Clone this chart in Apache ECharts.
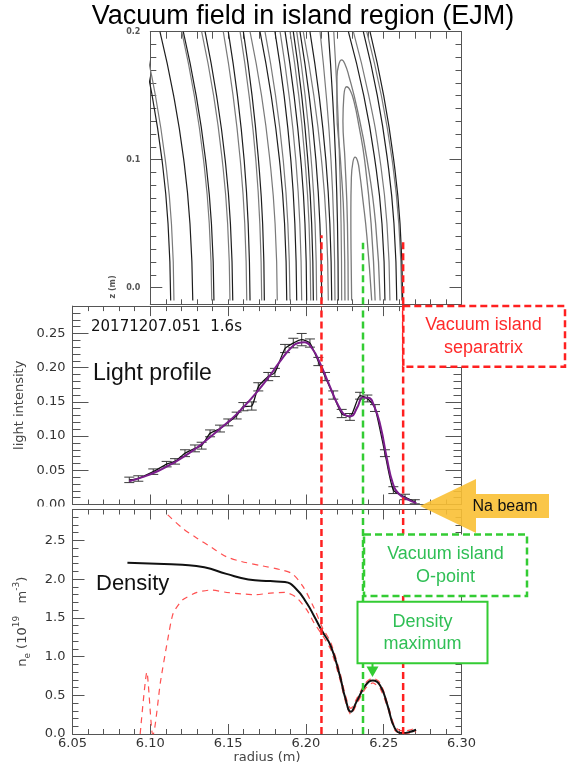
<!DOCTYPE html>
<html><head><meta charset="utf-8">
<script src="https://cdn.jsdelivr.net/npm/echarts@6/dist/echarts.min.js"></script>
<style>html,body{margin:0;padding:0;background:#fff;}#c{width:571px;height:765px;}</style>
</head><body><div id="c"></div>
<script>
// ---------- data ----------
// Top panel: vacuum field lines, radius at each z level
const fieldLevelsZ = [-0.01, 0.05, 0.10, 0.15, 0.20];
const fieldLinesR = [
 [6.1131, 6.1114, 6.1075, 6.1012, 6.0925],
 [6.1152, 6.1136, 6.1096, 6.1033, 6.0947],
 [6.1273, 6.1255, 6.1215, 6.1150, 6.1062],
 [6.1395, 6.1379, 6.1342, 6.1283, 6.1202],
 [6.1409, 6.1393, 6.1355, 6.1295, 6.1212],
 [6.1512, 6.1497, 6.1462, 6.1407, 6.1330],
 [6.1530, 6.1515, 6.1481, 6.1426, 6.1352],
 [6.1620, 6.1607, 6.1578, 6.1532, 6.1469],
 [6.1641, 6.1629, 6.1603, 6.1560, 6.1501],
 [6.1716, 6.1704, 6.1678, 6.1635, 6.1577],
 [6.1733, 6.1722, 6.1695, 6.1654, 6.1598],
 [6.1816, 6.1802, 6.1768, 6.1715, 6.1641],
 [6.1877, 6.1863, 6.1830, 6.1777, 6.1705],
 [6.1898, 6.1884, 6.1854, 6.1805, 6.1737],
 [6.1941, 6.1929, 6.1903, 6.1860, 6.1801],
 [6.1973, 6.1961, 6.1935, 6.1892, 6.1834],
 [6.2005, 6.1994, 6.1967, 6.1924, 6.1866],
 [6.2031, 6.2020, 6.1994, 6.1954, 6.1898],
 [6.2048, 6.2037, 6.2012, 6.1973, 6.1919],
 [6.2069, 6.2059, 6.2034, 6.1995, 6.1941],
 [6.2102, 6.2090, 6.2064, 6.2021, 6.1962],
 [6.2144, 6.2131, 6.2100, 6.2051, 6.1983],
 [6.2166, 6.2154, 6.2128, 6.2085, 6.2026],
 [6.2187, 6.2179, 6.2161, 6.2131, 6.2091],
 [6.2208, 6.2203, 6.2191, 6.2171, 6.2144],
 [6.2230, 6.2226, 6.2216, 6.2201, 6.2179],
 [6.2508, 6.2489, 6.2443, 6.2372, 6.2273],
 [6.2540, 6.2521, 6.2476, 6.2404, 6.2305],
 [6.2584, 6.2566, 6.2524, 6.2459, 6.2369],
 [6.2616, 6.2597, 6.2554, 6.2485, 6.2391],
 [6.2622, 6.2605, 6.2564, 6.2500, 6.2412]
];
// closed island flux surfaces ([radius, z])
const islandInner = [[6.2294,-0.01],[6.2290,0.03],[6.2289,0.06],[6.2292,0.085],[6.2302,0.098],[6.2316,0.102],[6.2332,0.099],[6.2345,0.09],[6.2365,0.07],[6.2392,0.04],[6.2423,-0.01]];
const islandMiddle = [[6.2272,-0.01],[6.2267,0.05],[6.2251,0.1],[6.2238,0.13],[6.2244,0.15],[6.2262,0.157],[6.2285,0.154],[6.2310,0.145],[6.2340,0.127],[6.2377,0.1],[6.2419,0.05],[6.2445,-0.01]];
const islandOuter = [[6.2251,-0.01],[6.2245,0.05],[6.2222,0.1],[6.2199,0.14],[6.2200,0.165],[6.2213,0.175],[6.2230,0.178],[6.2250,0.175],[6.2277,0.165],[6.2329,0.14],[6.2393,0.1],[6.2448,0.05],[6.2477,-0.01]];

// marker radii
const separatrixR = [6.2100, 6.2625];
const separatrixTopZ = [0.041, 0.037];
const oPointR = 6.2367;
const oPointTopZ = 0.035;

// Light profile
const lightR = [6.0865,6.0923,6.1019,6.1105,6.1159,6.1223,6.1287,6.1330,6.1384,6.1448,6.1501,6.1555,6.1598,6.1652,6.1694,6.1758,6.1801,6.1866,6.1919,6.1973,6.2026,6.2080,6.2123,6.2176,6.2230,6.2283,6.2348,6.2395,6.2444,6.2508,6.2562,6.2637,6.2700];
const lightV = [0.036,0.038,0.048,0.059,0.063,0.075,0.082,0.086,0.104,0.111,0.120,0.130,0.143,0.144,0.172,0.187,0.193,0.228,0.236,0.241,0.236,0.209,0.187,0.160,0.133,0.128,0.159,0.155,0.141,0.075,0.021,0.011,0.004];
const lightErr = [0.004,0.004,0.004,0.004,0.004,0.005,0.005,0.005,0.005,0.005,0.005,0.005,0.006,0.006,0.006,0.006,0.006,0.006,0.007,0.009,0.006,0.006,0.006,0.006,0.006,0.005,0.005,0.005,0.005,0.005,0.005,0.004,0.003];
const fitR = [6.0865,6.095,6.105,6.115,6.125,6.135,6.145,6.155,6.165,6.175,6.183,6.190,6.195,6.199,6.204,6.209,6.215,6.221,6.226,6.229,6.233,6.2365,6.240,6.244,6.248,6.252,6.256,6.260,6.265,6.271];
const fitV = [0.034,0.040,0.049,0.061,0.075,0.092,0.111,0.131,0.155,0.183,0.208,0.228,0.236,0.237,0.228,0.207,0.175,0.144,0.130,0.129,0.142,0.156,0.156,0.143,0.114,0.068,0.030,0.015,0.008,0.002];

// Density
const densR = [6.0853,6.1087,6.1206,6.1347,6.1489,6.1630,6.1771,6.1865,6.1936,6.2007,6.2054,6.2105,6.2160,6.2218,6.2254,6.2289,6.2325,6.2383,6.2430,6.2477,6.2524,6.2571,6.2619,6.2665,6.2708];
const densV = [2.212,2.195,2.186,2.153,2.068,1.996,1.975,1.962,1.877,1.686,1.517,1.326,1.136,0.754,0.458,0.288,0.415,0.627,0.690,0.627,0.373,0.076,0.013,0.025,0.055];
const upperR = [6.1112,6.1206,6.1300,6.1394,6.1489,6.1583,6.1724,6.1842,6.1912,6.1983,6.2054,6.2105,6.2160,6.2218,6.2254,6.2289,6.2325,6.2383,6.2430,6.2477,6.2524,6.2571,6.2619,6.2665,6.2708];
const upperV = [2.83,2.66,2.53,2.41,2.29,2.23,2.17,2.12,2.07,1.90,1.62,1.38,1.18,0.80,0.50,0.33,0.45,0.66,0.72,0.66,0.40,0.10,0.04,0.05,0.08];
const lowerR = [6.0935,6.0978,6.1014,6.1019,6.1065,6.1112,6.1147,6.1206,6.1300,6.1394,6.1489,6.1583,6.1677,6.1771,6.1865,6.1936,6.2007,6.2054,6.2105,6.2160,6.2218,6.2254,6.2289,6.2325,6.2383,6.2430,6.2477,6.2524,6.2571,6.2619,6.2665,6.2708];
const lowerV = [0.0,0.80,0.0,0.0,0.67,1.22,1.56,1.73,1.83,1.86,1.83,1.81,1.80,1.82,1.83,1.77,1.60,1.43,1.28,1.09,0.71,0.42,0.25,0.38,0.59,0.66,0.59,0.35,0.05,0.0,0.01,0.03];

// ---------- chart ----------
const AX = '#555';
const LBL = {fontFamily:'DejaVu Sans', fontSize:13, color:'#333'};
const zip = (a, b) => a.map((x, i) => [x, b[i]]);

function xAx(grid, pos, min, max, interval, major, minor, extra) {
  return Object.assign({
    type:'value', gridIndex:grid, position:pos, min, max, interval,
    axisLine:{show:true, onZero:false, lineStyle:{color:AX, width:1}},
    axisTick:{show:true, inside:true, length:major, lineStyle:{color:AX}},
    minorTick:{show:minor>0, splitNumber:5, length:minor, lineStyle:{color:AX}},
    axisLabel:{show:false}, splitLine:{show:false}
  }, extra || {});
}
function yAx(grid, pos, min, max, interval, major, minor, extra) {
  return Object.assign({
    type:'value', gridIndex:grid, position:pos, min, max, interval,
    axisLine:{show:true, onZero:false, lineStyle:{color:AX, width:1}},
    axisTick:{show:major>0, inside:true, length:major, lineStyle:{color:AX}},
    minorTick:{show:minor>0, splitNumber:5, length:minor, lineStyle:{color:AX}},
    axisLabel:{show:false}, splitLine:{show:false}
  }, extra || {});
}
const multOf = (v, step) => Math.abs(v/step - Math.round(v/step)) < 1e-6;

const series = [];
fieldLinesR.forEach((rs, i) => {
  series.push({type:'line', xAxisIndex:0, yAxisIndex:0, data: rs.map((r, k) => [r, fieldLevelsZ[k]]),
    smooth:0.5, symbol:'none', silent:true, lineStyle:{color: i % 2 ? '#7a7a7a' : '#1e1e1e', width:1.2}});
});
[islandInner, islandMiddle, islandOuter].forEach(c => {
  series.push({type:'line', xAxisIndex:0, yAxisIndex:0, data:c, smooth:0.5, symbol:'none', silent:true,
    lineStyle:{color:'#7a7a7a', width:1.3}});
});
function vline(xi, yi, x, y0, y1, color) {
  return {type:'line', xAxisIndex:xi, yAxisIndex:yi, data:[[x,y0],[x,y1]], symbol:'none', silent:true, z:5,
    lineStyle:{color, width:2.5, type:[7,4]}};
}
const RED = '#ff2020', GREEN = '#33cc33';
separatrixR.forEach((r, i) => series.push(vline(0, 0, r, -0.013, separatrixTopZ[i], RED)));
series.push(vline(0, 0, oPointR, -0.013, oPointTopZ, GREEN));

// middle panel
series.push({type:'custom', xAxisIndex:2, yAxisIndex:2, clip:true, z:3,
  data: lightR.map((r, i) => [r, lightV[i], lightErr[i]]),
  encode:{x:0, y:1},
  renderItem(params, api) {
    const x = api.value(0), y = api.value(1), e = api.value(2);
    const hi = api.coord([x, y + e]), lo = api.coord([x, y - e]);
    const hw = 5, st = {stroke:'#3a3a3a', lineWidth:1};
    return {type:'group', children:[
      {type:'line', shape:{x1:hi[0], y1:hi[1], x2:lo[0], y2:lo[1]}, style:st},
      {type:'line', shape:{x1:hi[0]-hw, y1:hi[1], x2:hi[0]+hw, y2:hi[1]}, style:st},
      {type:'line', shape:{x1:lo[0]-hw, y1:lo[1], x2:lo[0]+hw, y2:lo[1]}, style:st}
    ]};
  }});
series.push({type:'line', xAxisIndex:2, yAxisIndex:2, data:zip(lightR, lightV), symbol:'none', smooth:0.2, z:4,
  lineStyle:{color:'#111', width:1.3}});
series.push({type:'line', xAxisIndex:2, yAxisIndex:2, data:zip(fitR, fitV), symbol:'none', smooth:0.5, z:4,
  lineStyle:{color:'#7b1d8c', width:2}});
separatrixR.forEach(r => series.push(vline(2, 2, r, 0, 0.29, RED)));
series.push(vline(2, 2, oPointR, 0, 0.29, GREEN));

// bottom panel
series.push({type:'line', xAxisIndex:4, yAxisIndex:4, data:zip(upperR, upperV), symbol:'none', smooth:0.3, z:3,
  lineStyle:{color:'#ff5050', width:1.2, type:[6,5]}});
series.push({type:'line', xAxisIndex:4, yAxisIndex:4, data:zip(lowerR, lowerV), symbol:'none', smooth:0.2, z:3,
  lineStyle:{color:'#ff5050', width:1.2, type:[6,5]}});
series.push({type:'line', xAxisIndex:4, yAxisIndex:4, data:zip(densR, densV), symbol:'none', smooth:0.5, z:4,
  lineStyle:{color:'#111', width:2}});
separatrixR.forEach(r => series.push(vline(4, 4, r, 0, 2.9, RED)));
series.push(vline(4, 4, oPointR, 0, 2.9, GREEN));

const TXT = (text, x, y, size, fill, extra) => ({type:'text', x, y, z:100,
  style:Object.assign({text, fontSize:size, fontFamily:'Liberation Sans', fill, align:'center', verticalAlign:'middle'}, extra || {})});

const option = {
  animation:false,
  backgroundColor:'#fff',
  grid:[
    {left:150.3, right:109.5, top:31.7, bottom:460.7, show:false},
    {left:72.5, right:109.5, top:306.1, bottom:260.5, show:false},
    {left:72.5, right:109.5, top:509.5, bottom:29.3, show:false},
    {left:150.3, right:109.5, top:31.7, bottom:477.3, show:false}
  ],
  xAxis:[
    xAx(0, 'bottom', 6.10, 6.30, 0.01, 5, 0),
    xAx(0, 'top', 6.10, 6.30, 0.01, 7, 0),
    xAx(1, 'bottom', 6.05, 6.30, 0.05, 10, 5),
    xAx(1, 'top', 6.05, 6.30, 0.05, 10, 5),
    xAx(2, 'bottom', 6.05, 6.30, 0.05, 10, 5, {
      axisLabel:Object.assign({show:true, margin:3, formatter:v => v.toFixed(2)}, LBL),
      name:'radius (m)', nameLocation:'middle', nameGap:17,
      nameTextStyle:{fontFamily:'DejaVu Sans', fontSize:13, color:'#444'}}),
    xAx(2, 'top', 6.05, 6.30, 0.05, 10, 5),
    {type:'value', gridIndex:3, min:6.10, max:6.30, show:false}
  ],
  yAxis:[
    yAx(0, 'left', -0.013, 0.2, null, 0, 0),
    yAx(0, 'right', -0.013, 0.2, null, 0, 0),
    yAx(1, 'left', 0, 0.29, 0.05, 16, 8, {
      axisLabel:Object.assign({show:true, margin:7, formatter:v => multOf(v, 0.05) ? v.toFixed(2) : ''}, LBL),
      name:'light intensity', nameLocation:'middle', nameGap:43,
      nameTextStyle:{fontFamily:'DejaVu Sans', fontSize:13, color:'#444'}}),
    yAx(1, 'right', 0, 0.29, 0.05, 16, 8),
    yAx(2, 'left', 0, 2.9, 0.5, 12, 6, {
      axisLabel:Object.assign({show:true, margin:7, formatter:v => multOf(v, 0.5) ? v.toFixed(1) : ''}, LBL),
      name:'n{sub|e} (10{sup|19}   m{sup|-3})', nameLocation:'middle', nameGap:40,
      nameTextStyle:{fontFamily:'DejaVu Sans', fontSize:13, color:'#444', lineHeight:20,
        rich:{sub:{fontSize:9, verticalAlign:'bottom', lineHeight:20, fontFamily:'DejaVu Sans', color:'#444'},
              sup:{fontSize:9, verticalAlign:'top', lineHeight:20, fontFamily:'DejaVu Sans', color:'#444'}}}}),
    yAx(2, 'right', 0, 2.9, 0.5, 12, 6),
    yAx(3, 'left', 0, 0.2, 0.1, 12, 6, {
      axisLine:{show:false}, minorTick:{show:true, splitNumber:10, length:6, lineStyle:{color:AX}},
      axisLabel:{show:true, margin:10, formatter:v => v.toFixed(1), fontSize:8, fontWeight:'bold', fontFamily:'DejaVu Sans', color:'#555'}}),
    yAx(3, 'right', 0, 0.2, 0.1, 12, 6, {
      axisLine:{show:false}, minorTick:{show:true, splitNumber:10, length:6, lineStyle:{color:AX}}})
  ],
  series,
  graphic:[
    TXT('Vacuum field in island region (EJM)', 303, 17, 27, '#000'),
    {type:'text', x:113, y:287, rotation:Math.PI/2, z:100,
      style:{text:'z (m)', fontSize:8, fontWeight:'bold', fontFamily:'DejaVu Sans', fill:'#555', align:'center', verticalAlign:'middle'}},
    TXT('20171207.051  1.6s', 91, 327, 15, '#111', {align:'left', fontFamily:'DejaVu Sans'}),
    TXT('Light profile', 93, 374, 23, '#111', {align:'left'}),
    TXT('Density', 96, 584, 22, '#111', {align:'left'}),
    {type:'rect', z:100, shape:{x:403.3, y:306, width:161.7, height:60.7},
      style:{fill:'#fff', stroke:RED, lineWidth:2.5, lineDash:[7,4]}},
    TXT('Vacuum island', 483.5, 325.5, 18, '#ff2a2a'),
    TXT('separatrix', 483.5, 348.5, 18, '#ff2a2a'),
    {type:'rect', z:100, shape:{x:364, y:534.5, width:163, height:61.5},
      style:{fill:'#fff', stroke:GREEN, lineWidth:2.5, lineDash:[7,4]}},
    TXT('Vacuum island', 445.5, 554, 18, '#2fbf55'),
    TXT('O-point', 445.5, 577, 18, '#2fbf55'),
    {type:'rect', z:100, shape:{x:357.5, y:601.7, width:130, height:61.6},
      style:{fill:'#fff', stroke:GREEN, lineWidth:2}},
    TXT('Density', 422.5, 622, 18, '#2fbf55'),
    TXT('maximum', 422.5, 644, 18, '#2fbf55'),
    {type:'line', z:100, shape:{x1:372.5, y1:663.3, x2:372.5, y2:667}, style:{stroke:GREEN, lineWidth:2}},
    {type:'polygon', z:100, shape:{points:[[366.5,666.5],[378.5,666.5],[372.5,677]]}, style:{fill:GREEN}},
    {type:'polygon', z:100, shape:{points:[[420,506],[476,479],[476,494],[549,494],[549,518],[476,518],[476,533]]},
      style:{fill:'rgba(249,192,52,0.9)'}},
    TXT('Na beam', 505, 507, 16, '#111'),
    {type:'rect', z:100, shape:{x:25, y:506.5, width:45, height:6}, style:{fill:'#fff'}}
  ]
};
const chart = echarts.init(document.getElementById('c'));
chart.setOption(option);
</script></body></html>
